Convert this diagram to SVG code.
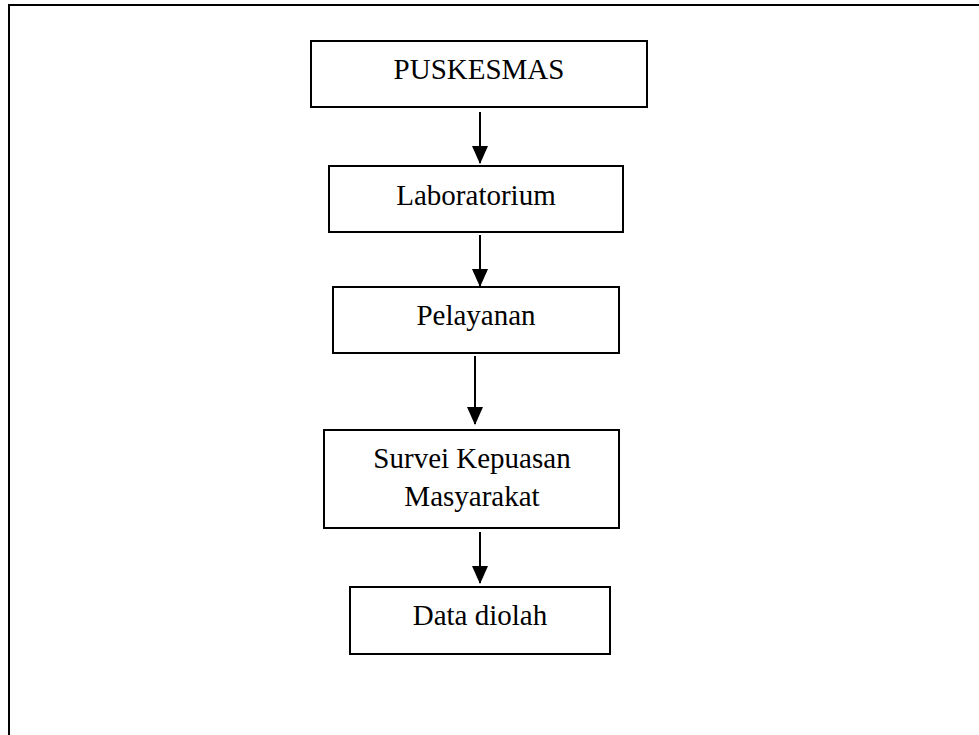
<svg xmlns="http://www.w3.org/2000/svg" width="979" height="735" viewBox="0 0 979 735">
<style>
.box{fill:#fff;stroke:#000;stroke-width:2}
.lbl{font-family:"Liberation Serif","Times New Roman",serif;font-size:29px;fill:#000;text-anchor:middle}
.conn{stroke:#000;stroke-width:2;fill:none}
</style>
<defs>
<marker id="ah" markerUnits="userSpaceOnUse" markerWidth="18" markerHeight="16" refX="17" refY="8" orient="auto">
<path d="M0,0 L18,8 L0,16 Z" fill="#000"/>
</marker>
</defs>
<rect x="9" y="5" width="1000" height="800" fill="none" stroke="#000" stroke-width="2"/>
<g id="puskesmas"><rect class="box" x="311" y="41" width="336" height="66"/><text class="lbl" x="479" y="79">PUSKESMAS</text></g>
<g id="laboratorium"><rect class="box" x="329" y="166" width="294" height="66"/><text class="lbl" x="476" y="205">Laboratorium</text></g>
<g id="pelayanan"><rect class="box" x="333" y="287" width="286" height="66"/><text class="lbl" x="476" y="325">Pelayanan</text></g>
<g id="survei"><rect class="box" x="324" y="430" width="295" height="98"/><text class="lbl" x="472" y="468">Survei Kepuasan</text><text class="lbl" x="472" y="506">Masyarakat</text></g>
<g id="data"><rect class="box" x="350" y="587" width="260" height="67"/><text class="lbl" x="480" y="625">Data diolah</text></g>
<g id="connectors">
<line class="conn" x1="480" y1="112" x2="480" y2="163" marker-end="url(#ah)"/>
<line class="conn" x1="480" y1="235" x2="480" y2="286" marker-end="url(#ah)"/>
<line class="conn" x1="475" y1="356" x2="475" y2="424" marker-end="url(#ah)"/>
<line class="conn" x1="480" y1="532" x2="480" y2="583" marker-end="url(#ah)"/>
</g>
</svg>
